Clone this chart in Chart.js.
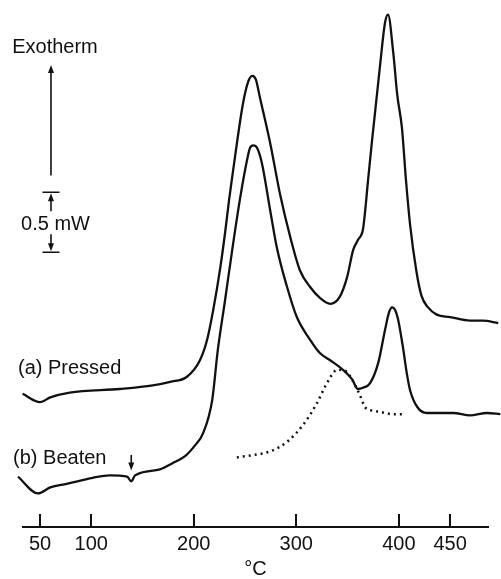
<!DOCTYPE html>
<html>
<head>
<meta charset="utf-8">
<script src="https://cdn.jsdelivr.net/npm/chart.js@4.4.0/dist/chart.umd.min.js"></script>
<style>
  html, body { margin: 0; padding: 0; background: #fff; }
  #wrap { position: relative; width: 501px; height: 579px; }
</style>
</head>
<body>
<div id="wrap"><canvas id="chart"></canvas></div>
<script>
// DSC traces: temperature (°C) and heat flow (mW, traces offset vertically)
const pressedTemp = [33, 50, 60, 79, 128, 160, 177, 193, 206, 213, 219, 226, 230.5, 234.5, 238.5, 248, 253, 257, 260.5, 264.5, 274.5, 284, 294, 303.5, 313.5, 323, 333, 342.5, 349.5, 355.5, 360, 365, 367, 370, 374, 381.5, 386.5, 389.5, 394.5, 398.5, 403, 407, 411, 417, 422, 428.5, 437, 450, 469.5, 482, 497];
const pressedFlow = [1.11, 1.04, 1.08, 1.12, 1.15, 1.18, 1.21, 1.25, 1.39, 1.56, 1.81, 2.17, 2.45, 2.73, 2.98, 3.53, 3.71, 3.76, 3.73, 3.58, 3.20, 2.78, 2.42, 2.14, 2.00, 1.91, 1.86, 1.92, 2.08, 2.31, 2.39, 2.48, 2.62, 2.89, 3.23, 3.83, 4.20, 4.27, 3.96, 3.60, 3.33, 2.89, 2.52, 2.14, 1.93, 1.83, 1.77, 1.75, 1.72, 1.72, 1.70];

const beatenTemp = [28.5, 48, 60, 76, 101.5, 118, 135, 139, 142.7, 167, 178.8, 191.5, 201.2, 209, 218, 223.5, 230.5, 237.5, 245, 252, 254.9, 258, 261.7, 266.5, 274.5, 281, 291, 300.5, 313.5, 323, 333, 345.5, 354.5, 360, 365, 372, 380, 386.5, 390.5, 393.5, 396.3, 399.3, 404, 408, 411, 418, 427.5, 453, 469.5, 486, 499];
const beatenFlow = [0.42, 0.28, 0.33, 0.36, 0.41, 0.43, 0.42, 0.38, 0.43, 0.48, 0.53, 0.59, 0.68, 0.78, 1.06, 1.48, 1.89, 2.31, 2.73, 3.06, 3.16, 3.18, 3.16, 3.03, 2.64, 2.33, 2.00, 1.75, 1.56, 1.45, 1.39, 1.31, 1.23, 1.15, 1.16, 1.20, 1.37, 1.64, 1.79, 1.83, 1.81, 1.73, 1.50, 1.27, 1.14, 1.00, 0.95, 0.95, 0.93, 0.95, 0.94];

// dotted line under curve (b)
const dottedTemp = [242, 258, 274.5, 291, 306.5, 320, 330, 340, 348, 355, 362, 367, 374, 381.5, 394.5, 404];
const dottedFlow = [0.58, 0.60, 0.63, 0.71, 0.85, 1.03, 1.20, 1.31, 1.30, 1.22, 1.10, 1.00, 0.97, 0.96, 0.94, 0.94];

const tempTicks = [50, 100, 200, 300, 400, 450];

const ink = '#111';
const fontFamily = '"Liberation Sans", Arial, Helvetica, sans-serif';

const toPoints = (xs, ys) => xs.map((t, i) => ({ x: t, y: ys[i] }));

const arrow = (ctx, x, yFrom, yTo) => {
  const dir = yTo < yFrom ? -1 : 1;
  ctx.beginPath();
  ctx.moveTo(x, yFrom);
  ctx.lineTo(x, yTo - dir * 6);
  ctx.stroke();
  ctx.beginPath();
  ctx.moveTo(x, yTo);
  ctx.lineTo(x - 3, yTo - dir * 8);
  ctx.lineTo(x + 3, yTo - dir * 8);
  ctx.closePath();
  ctx.fill();
};

// texts and arrows of the figure
const notes = {
  id: 'notes',
  afterDraw(chart) {
    const { ctx, scales: { x, y } } = chart;
    const px = v => x.getPixelForValue(v);
    const py = v => y.getPixelForValue(v);
    ctx.save();
    ctx.strokeStyle = ink;
    ctx.fillStyle = ink;
    ctx.lineWidth = 1.6;
    ctx.font = '20px ' + fontFamily;
    ctx.textBaseline = 'middle';

    ctx.textAlign = 'left';
    ctx.fillText('(a) Pressed', px(28.5), py(1.32));
    ctx.fillText('(b) Beaten', px(23.7), py(0.57));
    ctx.fillText('0.5 mW', px(31.5), py(2.52));
    ctx.textAlign = 'center';
    ctx.fillText('Exotherm', px(64.6), py(4.0));

    // exotherm direction
    const cx = px(60.7);
    arrow(ctx, cx, py(2.93), py(3.85));

    // 0.5 mW scale bar
    const top = py(2.79), bot = py(2.29);
    ctx.beginPath();
    ctx.moveTo(cx - 8.5, top); ctx.lineTo(cx + 8.5, top);
    ctx.moveTo(cx - 8.5, bot); ctx.lineTo(cx + 8.5, bot);
    ctx.stroke();
    arrow(ctx, cx, top + 19, top + 1);
    arrow(ctx, cx, bot - 18, bot - 1);

    // marker on curve (b)
    arrow(ctx, px(139), py(0.60), py(0.47));
    ctx.restore();
  }
};

new Chart(document.getElementById('chart'), {
  type: 'line',
  data: {
    datasets: [
      {
        data: toPoints(pressedTemp, pressedFlow),
        borderColor: ink, borderWidth: 2.3, pointRadius: 0,
        cubicInterpolationMode: 'monotone', clip: false
      },
      {
        data: toPoints(beatenTemp, beatenFlow),
        borderColor: ink, borderWidth: 2.3, pointRadius: 0,
        cubicInterpolationMode: 'monotone', clip: false
      },
      {
        data: toPoints(dottedTemp, dottedFlow),
        borderColor: ink, borderWidth: 2.5, borderDash: [2, 4], pointRadius: 0,
        cubicInterpolationMode: 'monotone', clip: false
      }
    ]
  },
  options: {
    responsive: true,
    maintainAspectRatio: false,
    animation: false,
    layout: { padding: { left: 23, right: 13, top: 0, bottom: 0 } },
    plugins: { legend: { display: false }, tooltip: { enabled: false } },
    scales: {
      x: {
        type: 'linear',
        min: 33.4,
        max: 487,
        afterBuildTicks: scale => { scale.ticks = tempTicks.map(v => ({ value: v })); },
        afterFit: scale => { scale.height = 52; },
        grid: { drawOnChartArea: false, drawTicks: true, tickLength: -13, color: ink, lineWidth: 2 },
        border: { display: true, color: ink, width: 2 },
        ticks: { color: ink, padding: 18, maxRotation: 0, autoSkip: false, font: { family: fontFamily, size: 20 } },
        title: { display: true, text: '°C', color: ink, padding: 0, align: 'center', font: { family: fontFamily, size: 20, lineHeight: 1 } }
      },
      y: {
        display: false,
        min: 0,
        max: 4.392
      }
    }
  },
  plugins: [notes]
});
</script>
</body>
</html>
